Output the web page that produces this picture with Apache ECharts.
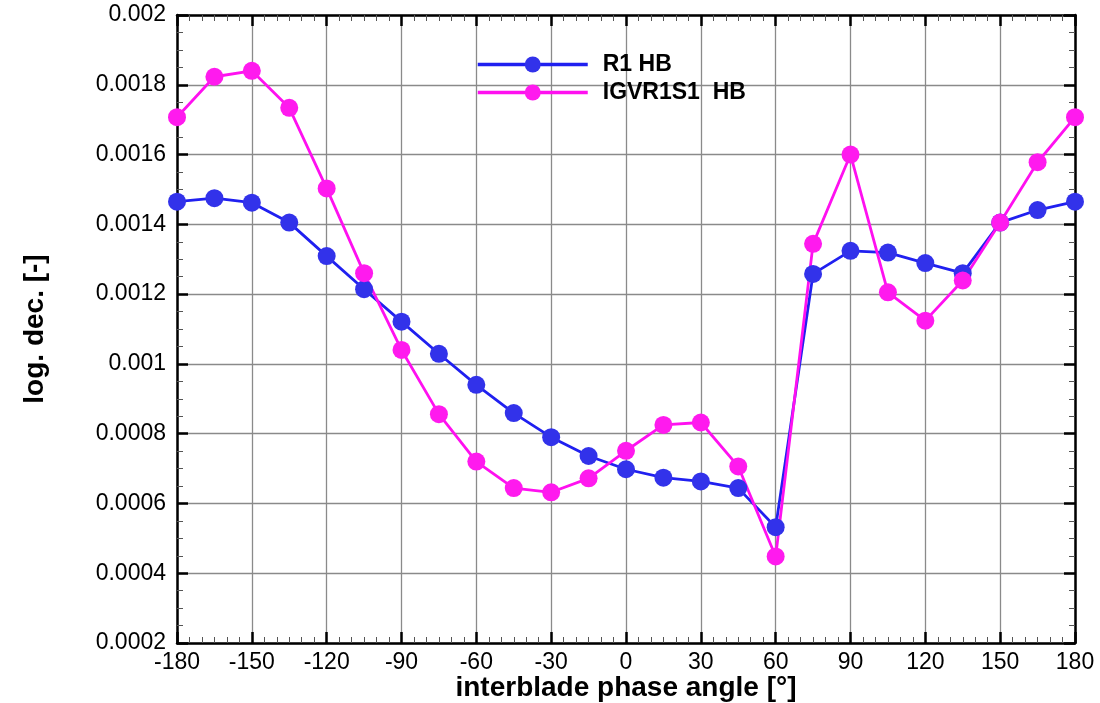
<!DOCTYPE html>
<html><head><meta charset="utf-8">
<script src="https://cdn.jsdelivr.net/npm/echarts@6/dist/echarts.min.js"></script>
<style>html,body{margin:0;padding:0;background:#fff}#c{width:1100px;height:703px}</style>
</head><body><div id="c"></div>
<script>
const angles = [-180,-165,-150,-135,-120,-105,-90,-75,-60,-45,-30,-15,0,15,30,45,60,75,90,105,120,135,150,165,180];
const r1hb = [0.001465,0.001475,0.001462,0.001405,0.001309,0.001214,0.001121,0.001029,0.00094,0.000859,0.00079,0.000736,0.000698,0.000674,0.000663,0.000644,0.000532,0.001258,0.001324,0.001319,0.001289,0.00126,0.001405,0.001441,0.001465];
const igvr = [0.001707,0.001823,0.00184,0.001734,0.001503,0.00126,0.00104,0.000856,0.00072,0.000644,0.000632,0.000672,0.000751,0.000825,0.000832,0.000706,0.000448,0.001344,0.0016,0.001205,0.001124,0.001239,0.001405,0.001578,0.001707];
const seriesNames = ['R1 HB','IGVR1S1  HB'];
const xTitle = 'interblade phase angle [°]';
const yTitle = 'log. dec. [-]';

const chart = echarts.init(document.getElementById('c'), null, {renderer:'canvas'});
const font = 'Liberation Sans, Arial, Helvetica, sans-serif';
const axisLine = {show:true, onZero:false, lineStyle:{color:'#000', width:2.5}};
const majorTick = {show:true, inside:true, length:11, lineStyle:{color:'#000', width:2.5}};
const minorTick = (n)=>({show:true, splitNumber:n, length:6, lineStyle:{color:'#555', width:1}});
const grid = {left:177, right:25, top:15, bottom:60, containLabel:false, outerBoundsMode:'none'};
const mk = (arr)=>angles.map((a,i)=>[a,arr[i]]);
chart.setOption({
  animation:false,
  backgroundColor:'#fff',
  grid: grid,
  legend:{
    orient:'vertical', left:471, top:48, itemWidth:110, itemHeight:20, itemGap:5,
    lineStyle:{width:3.5},
    textStyle:{fontFamily:font, fontSize:23, fontWeight:'bold', color:'#000', padding:[0,0,0,10]},
    data: seriesNames
  },
  xAxis:[{
    type:'value', min:-180, max:180, interval:30,
    axisLine: axisLine, axisTick: majorTick, minorTick: minorTick(6),
    splitLine:{show:true, lineStyle:{color:'#8a8a8a', width:1.3}},
    axisLabel:{fontFamily:font, fontSize:23, color:'#000', margin:8},
    name: xTitle, nameLocation:'middle', nameGap:31, nameMoveOverlap:false,
    nameTextStyle:{fontFamily:font, fontSize:28, fontWeight:'bold', color:'#000'}
  },{
    type:'value', min:-180, max:180, interval:30, position:'top',
    axisLine: axisLine, axisTick: majorTick, minorTick: minorTick(6),
    splitLine:{show:false}, axisLabel:{show:false}
  }],
  yAxis:[{
    type:'value', min:0.0002, max:0.002, interval:0.0002,
    axisLine: axisLine, axisTick: majorTick, minorTick: minorTick(4),
    splitLine:{show:true, lineStyle:{color:'#8a8a8a', width:1.3}},
    axisLabel:{fontFamily:font, fontSize:23, color:'#000', margin:11, formatter:(v)=>String(+v.toFixed(5))},
    name: yTitle, nameLocation:'middle', nameGap:128, nameRotate:90, nameMoveOverlap:false,
    nameTextStyle:{fontFamily:font, fontSize:28, fontWeight:'bold', color:'#000'}
  },{
    type:'value', min:0.0002, max:0.002, interval:0.0002, position:'right',
    axisLine: axisLine, axisTick: majorTick, minorTick: minorTick(4),
    splitLine:{show:false}, axisLabel:{show:false}
  }],
  series:[{
    name: seriesNames[0], type:'line', data: mk(r1hb), symbol:'circle', symbolSize:18,
    lineStyle:{color:'#2020f0', width:2.8}, itemStyle:{color:'#3232ea'}
  },{
    name: seriesNames[1], type:'line', data: mk(igvr), symbol:'circle', symbolSize:18,
    lineStyle:{color:'#ff10f0', width:2.8}, itemStyle:{color:'#ff1aee'}
  }]
});
</script></body></html>
